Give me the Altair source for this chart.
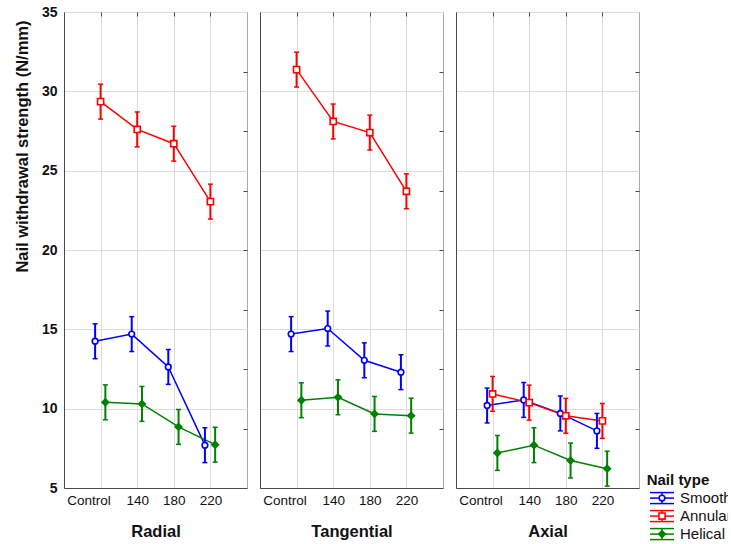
import json
import altair as alt
import pandas as pd

# ---------------- data ----------------
categories = ["Control", "140", "180", "220"]
panels = ["Radial", "Tangential", "Axial"]
series = ["Smooth", "Annular", "Helical"]
legend_title = "Nail type"
y_title = "Nail withdrawal strength (N/mm)"

radial_smooth = [14.25, 14.7, 12.63, 7.7]
radial_annular = [29.35, 27.6, 26.7, 23.05]
radial_helical = [10.4, 10.3, 8.85, 7.73]
tangential_smooth = [14.7, 15.05, 13.05, 12.3]
tangential_annular = [31.37, 28.1, 27.4, 23.7]
tangential_helical = [10.53, 10.72, 9.67, 9.56]
axial_smooth = [10.2, 10.55, 9.7, 8.6]
axial_annular = [10.93, 10.38, 9.55, 9.23]
axial_helical = [7.21, 7.7, 6.73, 6.22]

# half-width of the confidence interval, per nail type
ci_half = [1.1, 1.1, 1.1]

y_ticks = [5, 10, 15, 20, 25, 30, 35]
y_minor_ticks = [8.75, 12.5, 16.25, 20, 23.75, 27.5, 31.25]

# ---------------- styles ----------------
colors = ["#0000ff", "#ff0000", "#008000"]
shapes = ["circle", "square", "diamond"]
fills = ["white", "white", "#008000"]
sizes = [32, 44, 30]
dodge = [-0.15, 0.0, 0.13]
FONT = "Liberation Sans"
GRID = "#dcdcdc"
DARK = "#4a4a4a"

table = {
    ("Radial", "Smooth"): radial_smooth,
    ("Radial", "Annular"): radial_annular,
    ("Radial", "Helical"): radial_helical,
    ("Tangential", "Smooth"): tangential_smooth,
    ("Tangential", "Annular"): tangential_annular,
    ("Tangential", "Helical"): tangential_helical,
    ("Axial", "Smooth"): axial_smooth,
    ("Axial", "Annular"): axial_annular,
    ("Axial", "Helical"): axial_helical,
}

rows = []
for p in panels:
    for si, s in enumerate(series):
        for ci, c in enumerate(categories):
            v = table[(p, s)][ci]
            rows.append({
                "panel": p, "series": s, "order": si, "category": c,
                "xpos": ci + 1 + dodge[si], "value": v,
                "lo": v - ci_half[si], "hi": v + ci_half[si],
            })
df = pd.DataFrame(rows)

label_expr = "[" + ",".join(json.dumps(c).replace('"', "'") for c in categories) + "][datum.value - 1]"

xs = alt.Scale(domain=[0, len(categories) + 1], nice=False, zero=False)
ys = alt.Scale(domain=[5, 35], nice=False, zero=False)
stroke_enc = alt.Stroke("series:N", scale=alt.Scale(domain=series, range=colors), legend=None)
color_enc = alt.Color("series:N", scale=alt.Scale(domain=series, range=colors), legend=None)

W, H = 183, 476


def panel(name, first):
    d = df[df.panel == name]
    base = alt.Chart(d)
    x_axis = alt.Axis(
        values=[1, 2, 3, 4], labelExpr=label_expr, grid=True, gridColor=GRID,
        ticks=False, domainColor=DARK, labelFont=FONT, labelFontSize=13.5,
        labelColor="#111111", labelPadding=5, labelAngle=0,
        labelOffset={"condition": {"test": "datum.value == 1", "value": -12}, "value": 0},
        title=name, titleFont=FONT, titleFontSize=16.5, titleFontWeight="bold",
        titleColor="#111111", titlePadding=17,
    )
    if first:
        y_axis = alt.Axis(
            values=y_ticks, grid=True, gridColor=GRID, ticks=False, domainColor=DARK,
            labelFont=FONT, labelFontSize=14, labelFontWeight="bold", labelColor="#111111",
            labelPadding=7, title=y_title, titleFont=FONT, titleFontSize=16.5,
            titleFontWeight="bold", titleColor="#111111", titleAnchor="end", titleY=8,
            titlePadding=11,
        )
    else:
        y_axis = alt.Axis(
            values=y_ticks, grid=True, gridColor=GRID, ticks=False, domainColor=DARK,
            labels=False, title=None,
        )
    xn = alt.X("xpos:Q", scale=xs, axis=None)
    lines = base.mark_line(strokeWidth=1.5).encode(
        x=alt.X("xpos:Q", scale=xs, axis=x_axis),
        y=alt.Y("value:Q", scale=ys, axis=y_axis),
        stroke=stroke_enc, detail="series:N",
    )
    frame = base.mark_point(opacity=0).encode(
        x=alt.X("xpos:Q", scale=xs, axis=alt.Axis(
            orient="top", values=[1, 2, 3, 4], labels=False, domain=False, grid=False,
            tickSize=4, offset=-4, tickColor=DARK, title=None)),
        y=alt.Y("value:Q", scale=ys, axis=alt.Axis(
            orient="right", values=y_minor_ticks, labels=False, domain=False, grid=False,
            tickSize=4, offset=-4, tickColor=DARK, title=None)),
    )
    bars = base.mark_rule(strokeWidth=2).encode(
        x=xn, y=alt.Y("lo:Q", scale=ys, axis=None), y2="hi:Q", stroke=stroke_enc,
    )
    cap_lo = base.mark_tick(orient="horizontal", size=5, thickness=1.5, opacity=1).encode(
        x=xn, y=alt.Y("lo:Q", scale=ys, axis=None), color=color_enc)
    cap_hi = base.mark_tick(orient="horizontal", size=5, thickness=1.5, opacity=1).encode(
        x=xn, y=alt.Y("hi:Q", scale=ys, axis=None), color=color_enc)
    pts = base.mark_point(opacity=1, strokeWidth=1.6, filled=False).encode(
        x=xn, y=alt.Y("value:Q", scale=ys, axis=None), stroke=stroke_enc,
        shape=alt.Shape("series:N", scale=alt.Scale(domain=series, range=shapes), legend=None),
        fill=alt.Fill("series:N", scale=alt.Scale(domain=series, range=fills), legend=None),
        size=alt.Size("series:N", scale=alt.Scale(domain=series, range=sizes), legend=None),
    )
    return alt.layer(lines, frame, bars, cap_lo, cap_hi, pts).resolve_axis(
        x="independent", y="independent"
    ).properties(width=W, height=H)


# ---------------- hand-drawn legend ----------------
LW = 80
leg = pd.DataFrame({"series": series, "row": list(range(len(series)))})
lx = alt.Scale(domain=[0, LW], nice=False, zero=False)
ly = alt.Scale(domain=[-27.0, -0.56], nice=False, zero=False, reverse=True)
lbase = alt.Chart(leg)
lx_enc = alt.X(datum=-2, scale=lx, axis=None)
ly_enc = alt.Y("row:Q", scale=ly, axis=None)

leg_layers = []
for off in (-5.5, 0, 5.5):
    leg_layers.append(lbase.mark_rule(strokeWidth=1.5, yOffset=off).encode(
        x=lx_enc, x2=alt.datum(22), y=ly_enc, stroke=stroke_enc))
leg_layers.append(lbase.mark_rule(strokeWidth=1.5, y2Offset=5.5, yOffset=-5.5).encode(
    x=alt.X(datum=10, scale=lx, axis=None), y=ly_enc, y2="row:Q", stroke=stroke_enc))
leg_layers.append(lbase.mark_point(opacity=1, strokeWidth=1.6, filled=False).encode(
    x=alt.X(datum=10, scale=lx, axis=None), y=ly_enc, stroke=stroke_enc,
    shape=alt.Shape("series:N", scale=alt.Scale(domain=series, range=shapes), legend=None),
    fill=alt.Fill("series:N", scale=alt.Scale(domain=series, range=fills), legend=None),
    size=alt.Size("series:N", scale=alt.Scale(domain=series, range=sizes), legend=None)))
leg_layers.append(lbase.mark_text(align="left", baseline="middle", font=FONT, fontSize=15,
                                  color="#111111").encode(
    x=alt.X(datum=28, scale=lx, axis=None), y=ly_enc, text="series:N"))
leg_layers.append(alt.Chart(pd.DataFrame({"t": [legend_title], "row": [-1.0]})).mark_text(
    align="left", baseline="middle", font=FONT, fontSize=15, fontWeight="bold",
    color="#111111").encode(
    x=alt.X(datum=-5.3, scale=lx, axis=None), y=alt.Y("row:Q", scale=ly, axis=None), text="t:N"))

legend = alt.layer(*leg_layers).properties(
    width=LW, height=H, view=alt.ViewBackground(strokeOpacity=0))

chart = alt.hconcat(
    panel("Radial", True), panel("Tangential", False), panel("Axial", False), legend,
    spacing=13, bounds="flush",
).resolve_scale(
    x="independent", y="independent"
).properties(
    padding={"left": 13, "top": 4, "right": -4, "bottom": 1},
    background="white",
).configure_view(
    stroke="#a8a8a8", strokeWidth=1,
)

chart.save("out.html", embed_options={"renderer": "svg", "actions": False})
